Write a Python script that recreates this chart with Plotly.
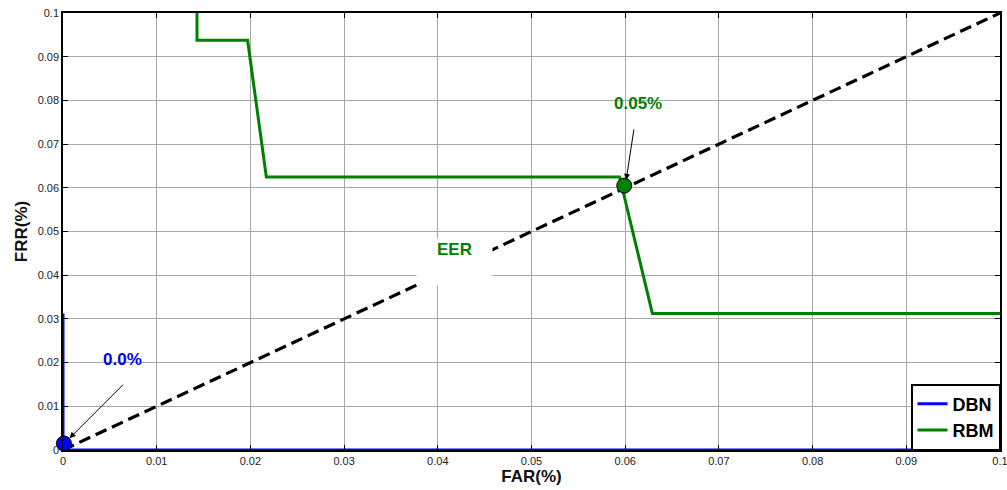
import plotly.graph_objects as go

# Data
dbn_far = [0.0, 0.0, 0.1]
dbn_frr = [0.03125, 0.0, 0.0]
rbm_far = [0.0143, 0.0143, 0.0197, 0.0217, 0.0594, 0.0629, 0.1]
rbm_frr = [0.105, 0.09375, 0.09375, 0.0625, 0.0625, 0.03125, 0.03125]
eer_far = [0.0, 0.1]
eer_frr = [0.0, 0.1]
dbn_pt = ([0.0001], [0.0015])
rbm_pt = ([0.0599], [0.0605])
tick_vals = [0, 0.01, 0.02, 0.03, 0.04, 0.05, 0.06, 0.07, 0.08, 0.09, 0.1]
tick_text = ["0", "0.01", "0.02", "0.03", "0.04", "0.05", "0.06", "0.07", "0.08", "0.09", "0.1"]

BLUE = "#0000ff"
GREEN = "#008000"
FONT = "Liberation Sans, Arial, sans-serif"

fig = go.Figure()
fig.add_trace(go.Scatter(x=eer_far, y=eer_frr, mode="lines",
                         line=dict(color="black", width=3.2, dash="12px,6px"),
                         showlegend=False))
fig.add_trace(go.Scatter(x=dbn_far, y=dbn_frr, mode="lines", name="DBN",
                         line=dict(color=BLUE, width=3), cliponaxis=False))
fig.add_trace(go.Scatter(x=rbm_far, y=rbm_frr, mode="lines", name="RBM",
                         line=dict(color=GREEN, width=3)))
fig.add_trace(go.Scatter(x=dbn_pt[0], y=dbn_pt[1], mode="markers", showlegend=False,
                         marker=dict(color=BLUE, size=15, line=dict(color="black", width=1)),
                         cliponaxis=False))
fig.add_trace(go.Scatter(x=rbm_pt[0], y=rbm_pt[1], mode="markers", showlegend=False,
                         marker=dict(color=GREEN, size=15, line=dict(color="black", width=1)),
                         cliponaxis=False))

axis_common = dict(
    range=[0, 0.1], tickvals=tick_vals, ticktext=tick_text,
    showgrid=True, gridcolor="#a8a8a8", gridwidth=1,
    showline=True, linecolor="black", linewidth=1.5, mirror="ticks",
    ticks="inside", ticklen=5, tickcolor="black",
    tickfont=dict(family=FONT, size=11, color="#222"),
    zeroline=False, automargin=False, ticklabeloverflow="allow",
)

fig.update_layout(
    width=1007, height=490,
    margin=dict(l=63, r=7, t=13, b=40),
    paper_bgcolor="white", plot_bgcolor="white",
    xaxis=dict(**axis_common,
               title=dict(text="<b>FAR(%)</b>", font=dict(family=FONT, size=17, color="#111"), standoff=4)),
    yaxis=dict(**axis_common,
               title=dict(text="<b>FRR(%)</b>", font=dict(family=FONT, size=17, color="#111"), standoff=6)),
    legend=dict(x=1, y=0, xanchor="right", yanchor="bottom",
                bgcolor="white", bordercolor="black", borderwidth=1.5,
                font=dict(family=FONT, size=18, color="black", weight="bold"),
                tracegroupgap=0, itemwidth=30),
    annotations=[
        dict(x=dbn_pt[0][0] + 0.0006, y=dbn_pt[1][0] + 0.0012, ax=55, ay=-55,
             text="", showarrow=True, arrowhead=2, arrowsize=1.2, arrowwidth=1, arrowcolor="black",
             xref="x", yref="y"),
        dict(x=0.0063, y=0.0206, text="<b>0.0%</b>", showarrow=False,
             font=dict(family=FONT, size=17, color=BLUE)),
        dict(x=rbm_pt[0][0] + 0.0002, y=rbm_pt[1][0] + 0.0013, ax=8, ay=-52,
             text="", showarrow=True, arrowhead=2, arrowsize=1.2, arrowwidth=1, arrowcolor="black",
             xref="x", yref="y"),
        dict(x=0.0614, y=0.0793, text="<b>0.05%</b>", showarrow=False,
             font=dict(family=FONT, size=17, color=GREEN)),
        dict(x=0.0418, y=0.0431, text="<b>EER</b>", showarrow=False,
             font=dict(family=FONT, size=17, color=GREEN),
             bgcolor="white", width=73, height=44, valign="top"),
    ],
)

fig.write_html("out.html")
